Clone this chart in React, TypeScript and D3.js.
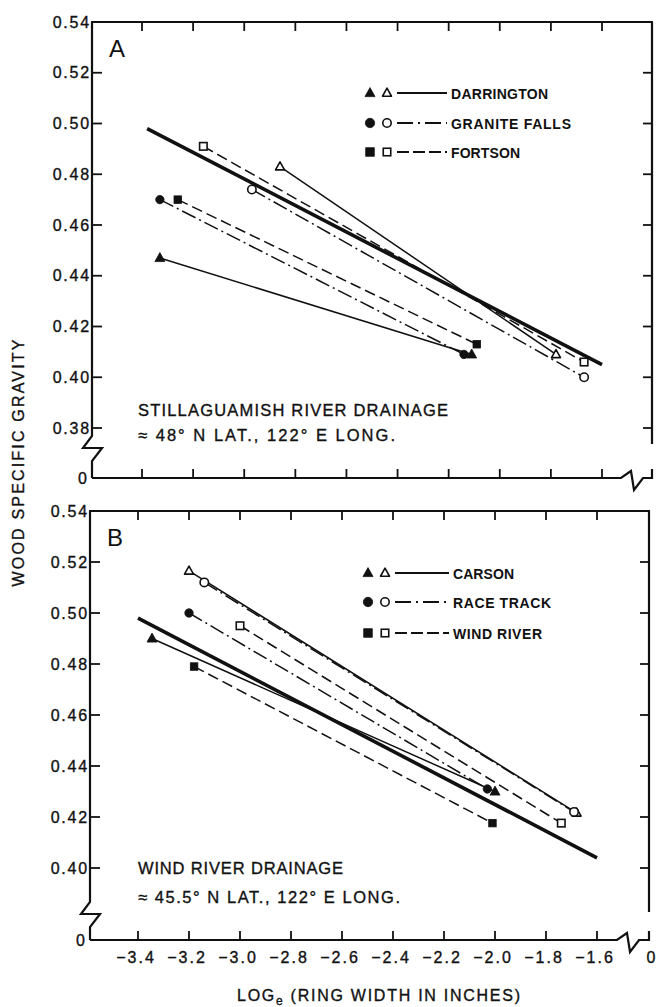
import React from 'react';
import * as d3 from 'd3';

// ---------- data ----------
const xTicks = [-3.4, -3.2, -3.0, -2.8, -2.6, -2.4, -2.2, -2.0, -1.8, -1.6];
const xTickLabels = ['−3.4', '−3.2', '−3.0', '−2.8', '−2.6', '−2.4', '−2.2', '−2.0', '−1.8', '−1.6'];
const yTicksA = [0.54, 0.52, 0.50, 0.48, 0.46, 0.44, 0.42, 0.40, 0.38];
const yTicksB = [0.54, 0.52, 0.50, 0.48, 0.46, 0.44, 0.42, 0.40];

const namesA = ['DARRINGTON', 'GRANITE FALLS', 'FORTSON'];
const namesB = ['CARSON', 'RACE TRACK', 'WIND RIVER'];
const markerKinds = ['triangle', 'circle', 'square'];
const lineKinds = ['solid', 'dashdot', 'dashed'];

// [x, y] end points: filled symbol series and open symbol series per location
const filledA: [number, number][][] = [
  [[-3.33, 0.447], [-2.11, 0.409]],
  [[-3.33, 0.470], [-2.14, 0.409]],
  [[-3.26, 0.470], [-2.09, 0.413]],
];
const openA: [number, number][][] = [
  [[-2.86, 0.483], [-1.78, 0.409]],
  [[-2.97, 0.474], [-1.67, 0.400]],
  [[-3.16, 0.491], [-1.67, 0.406]],
];
const overallA: [number, number][] = [[-3.38, 0.498], [-1.60, 0.405]];

const filledB: [number, number][][] = [
  [[-3.345, 0.490], [-2.00, 0.430]],
  [[-3.20, 0.500], [-2.03, 0.431]],
  [[-3.18, 0.479], [-2.01, 0.4176]],
];
const openB: [number, number][][] = [
  [[-3.20, 0.5165], [-1.68, 0.4216]],
  [[-3.14, 0.512], [-1.69, 0.422]],
  [[-3.00, 0.495], [-1.74, 0.4176]],
];
const overallB: [number, number][] = [[-3.40, 0.498], [-1.60, 0.404]];

const noteA = ['STILLAGUAMISH RIVER DRAINAGE', '≈ 48° N LAT., 122° E LONG.'];
const noteB = ['WIND RIVER DRAINAGE', '≈ 45.5° N LAT., 122° E LONG.'];

// ---------- drawing ----------
const INK = '#111';
const FONT = '"Liberation Sans", Arial, sans-serif';
const TXT = { fontFamily: FONT, fill: INK, stroke: INK, strokeWidth: 0.35 };

const dashFor = (k: string) =>
  k === 'solid' ? undefined : k === 'dashed' ? '11 5' : '15 4 2 4';

function Marker({ kind, x, y, filled, s = 9 }: { kind: string; x: number; y: number; filled: boolean; s?: number }) {
  const fill = filled ? INK : '#fff';
  const sw = filled ? 0.8 : 1.6;
  if (kind === 'triangle') {
    const h = s * 0.9;
    const d = `M${x},${y - h * 0.6}L${x + s / 2},${y + h * 0.4}L${x - s / 2},${y + h * 0.4}Z`;
    return <path d={d} fill={fill} stroke={INK} strokeWidth={sw} strokeLinejoin="round" />;
  }
  if (kind === 'circle') {
    return <circle cx={x} cy={y} r={s / 2 - 0.3} fill={fill} stroke={INK} strokeWidth={sw} />;
  }
  const a = s - 1.5;
  return <rect x={x - a / 2} y={y - a / 2} width={a} height={a} fill={fill} stroke={INK} strokeWidth={sw} />;
}

type PanelProps = {
  letter: string;
  top: number;
  yLow: number;
  yLowPx: number;
  bottom: number;
  left: number;
  right: number;
  xr: [number, number];
  yTicks: number[];
  breakY: number;
  frameEnd: number;
  xBreak: number;
  names: string[];
  nameLens: number[];
  filled: [number, number][][];
  open: [number, number][][];
  overall: [number, number][];
  legendY: number[];
  legendX: number;
  legendLineEnd: number;
  note: string[];
  noteY: number[];
  noteLens: number[];
  showXLabels: boolean;
};

function Panel(p: PanelProps) {
  const x = d3.scaleLinear().domain([-3.4, -1.6]).range(p.xr);
  const y = d3.scaleLinear().domain([p.yLow, 0.54]).range([p.yLowPx, p.top]);
  const line = d3.line<[number, number]>().x(d => x(d[0])).y(d => y(d[1]));
  const L = p.left, R = p.right, B = p.bottom, T = p.top;
  const by = p.breakY;
  const leftAxis = `M${L},${T}L${L},${by}L${L - 9},${by + 12}L${L + 10},${by + 12}L${L},${by + 25}L${L},${B}`;
  const bx = p.xBreak;
  const bottomAxis = `M${L},${B}L${bx},${B}L${bx + 10},${B - 7}L${bx + 13},${B + 12}L${bx + 22},${B}L${R},${B}L${R},${B - 9}`;
  return (
    <g>
      {/* frame */}
      <path d={leftAxis} fill="none" stroke={INK} strokeWidth={2.2} strokeLinejoin="miter" />
      <path d={bottomAxis} fill="none" stroke={INK} strokeWidth={2.2} />
      <line x1={L - 1} x2={R + 1} y1={T} y2={T} stroke={INK} strokeWidth={2.2} />
      <line x1={R} x2={R} y1={T} y2={p.frameEnd} stroke={INK} strokeWidth={2.2} />
      {/* ticks */}
      {xTicks.map((t, i) => (
        <g key={'xt' + i}>
          <line x1={x(t)} x2={x(t)} y1={T} y2={T + 9} stroke={INK} strokeWidth={1.8} />
          <line x1={x(t)} x2={x(t)} y1={B} y2={B - 9} stroke={INK} strokeWidth={1.8} />
          {p.showXLabels && (
            <text x={x(t) - 2} y={B + 23} textAnchor="middle" fontSize={16} letterSpacing={2} {...TXT}>
              {xTickLabels[i]}
            </text>
          )}
        </g>
      ))}
      {p.showXLabels && (
        <text x={R + 2} y={B + 23} textAnchor="middle" fontSize={16} {...TXT}>0</text>
      )}
      {p.yTicks.map((t, i) => (
        <g key={'yt' + i}>
          {t < 0.539 && <line x1={L} x2={L + 10} y1={y(t)} y2={y(t)} stroke={INK} strokeWidth={1.8} />}
          {t < 0.539 && <line x1={R} x2={R - 9} y1={y(t)} y2={y(t)} stroke={INK} strokeWidth={1.8} />}
          <text x={L - 1} y={y(t) + 5.5} textAnchor="end" fontSize={16} letterSpacing={1.8} {...TXT}>
            {t.toFixed(2)}
          </text>
        </g>
      ))}
      <text x={L - 5} y={B + 5.5} textAnchor="end" fontSize={16} {...TXT}>0</text>
      {/* panel letter */}
      <text x={L + 17} y={T + 35} fontSize={24} fontFamily={FONT} fill={INK}>{p.letter}</text>
      {/* data lines */}
      <path d={line(p.overall) || ''} fill="none" stroke={INK} strokeWidth={3.6} />
      {p.filled.map((s, i) => (
        <path key={'fl' + i} d={line(s) || ''} fill="none" stroke={INK} strokeWidth={1.5} strokeDasharray={dashFor(lineKinds[i])} />
      ))}
      {p.open.map((s, i) => (
        <path key={'ol' + i} d={line(s) || ''} fill="none" stroke={INK} strokeWidth={1.5} strokeDasharray={dashFor(lineKinds[i])} />
      ))}
      {[1, 2, 0].map(i =>
        p.filled[i].map((pt, j) => <Marker key={'fm' + i + j} kind={markerKinds[i]} x={x(pt[0])} y={y(pt[1])} filled={true} s={i === 0 ? 10 : 9} />)
      )}
      {p.open.map((s, i) =>
        s.map((pt, j) => <Marker key={'om' + i + j} kind={markerKinds[i]} x={x(pt[0])} y={y(pt[1])} filled={false} />)
      )}
      {/* legend */}
      {p.names.map((n, i) => (
        <g key={'lg' + i}>
          <Marker kind={markerKinds[i]} x={p.legendX} y={p.legendY[i]} filled={true} s={10} />
          <Marker kind={markerKinds[i]} x={p.legendX + 17} y={p.legendY[i]} filled={false} s={9} />
          <line x1={p.legendX + 27} x2={p.legendLineEnd} y1={p.legendY[i]} y2={p.legendY[i]} stroke={INK} strokeWidth={1.8}
            strokeDasharray={lineKinds[i] === 'dashed' ? '12 4' : lineKinds[i] === 'dashdot' ? '16 5 2 5' : undefined} />
          <text x={p.legendLineEnd + 4} y={p.legendY[i] + 5.5} fontSize={14} fontWeight={700} fontFamily={FONT} fill={INK}
            textLength={p.nameLens[i]} lengthAdjust="spacing">{n}</text>
        </g>
      ))}
      {/* note */}
      {p.note.map((n, i) => (
        <text key={'nt' + i} x={138} y={p.noteY[i]} fontSize={16.5} {...TXT}
          textLength={p.noteLens[i]} lengthAdjust="spacing">{n}</text>
      ))}
    </g>
  );
}

export default function App() {
  return (
    <svg width={656} height={1007} style={{ position: 'absolute', left: 0, top: 0, background: '#fff' }}>
      <rect width={656} height={1007} fill="#fff" />
      <Panel
        letter="A" top={22} yLow={0.38} yLowPx={428} bottom={478} left={92} right={652} xr={[142, 602]}
        yTicks={yTicksA} breakY={436} frameEnd={444} xBreak={621}
        names={namesA} nameLens={[97, 120, 69]} filled={filledA} open={openA} overall={overallA}
        legendY={[93, 123, 152]} legendX={370} legendLineEnd={447}
        note={noteA} noteY={[416, 441]} noteLens={[310, 257]} showXLabels={false}
      />
      <Panel
        letter="B" top={511} yLow={0.40} yLowPx={868} bottom={940} left={90} right={649} xr={[138, 597]}
        yTicks={yTicksB} breakY={902} frameEnd={912} xBreak={617}
        names={namesB} nameLens={[61, 98, 89]} filled={filledB} open={openB} overall={overallB}
        legendY={[573, 602, 633]} legendX={368} legendLineEnd={449}
        note={noteB} noteY={[874, 903]} noteLens={[205, 262]} showXLabels={true}
      />
      <text transform="translate(24,463) rotate(-90)" textAnchor="middle" fontSize={16} {...TXT}
        textLength={247} lengthAdjust="spacing">WOOD SPECIFIC GRAVITY</text>
      <text x={237} y={1001} fontSize={16} {...TXT} textLength={283} lengthAdjust="spacing">
        LOG<tspan fontSize={12} dy={4}>e</tspan><tspan dy={-4}> (RING WIDTH IN INCHES)</tspan>
      </text>
    </svg>
  );
}
